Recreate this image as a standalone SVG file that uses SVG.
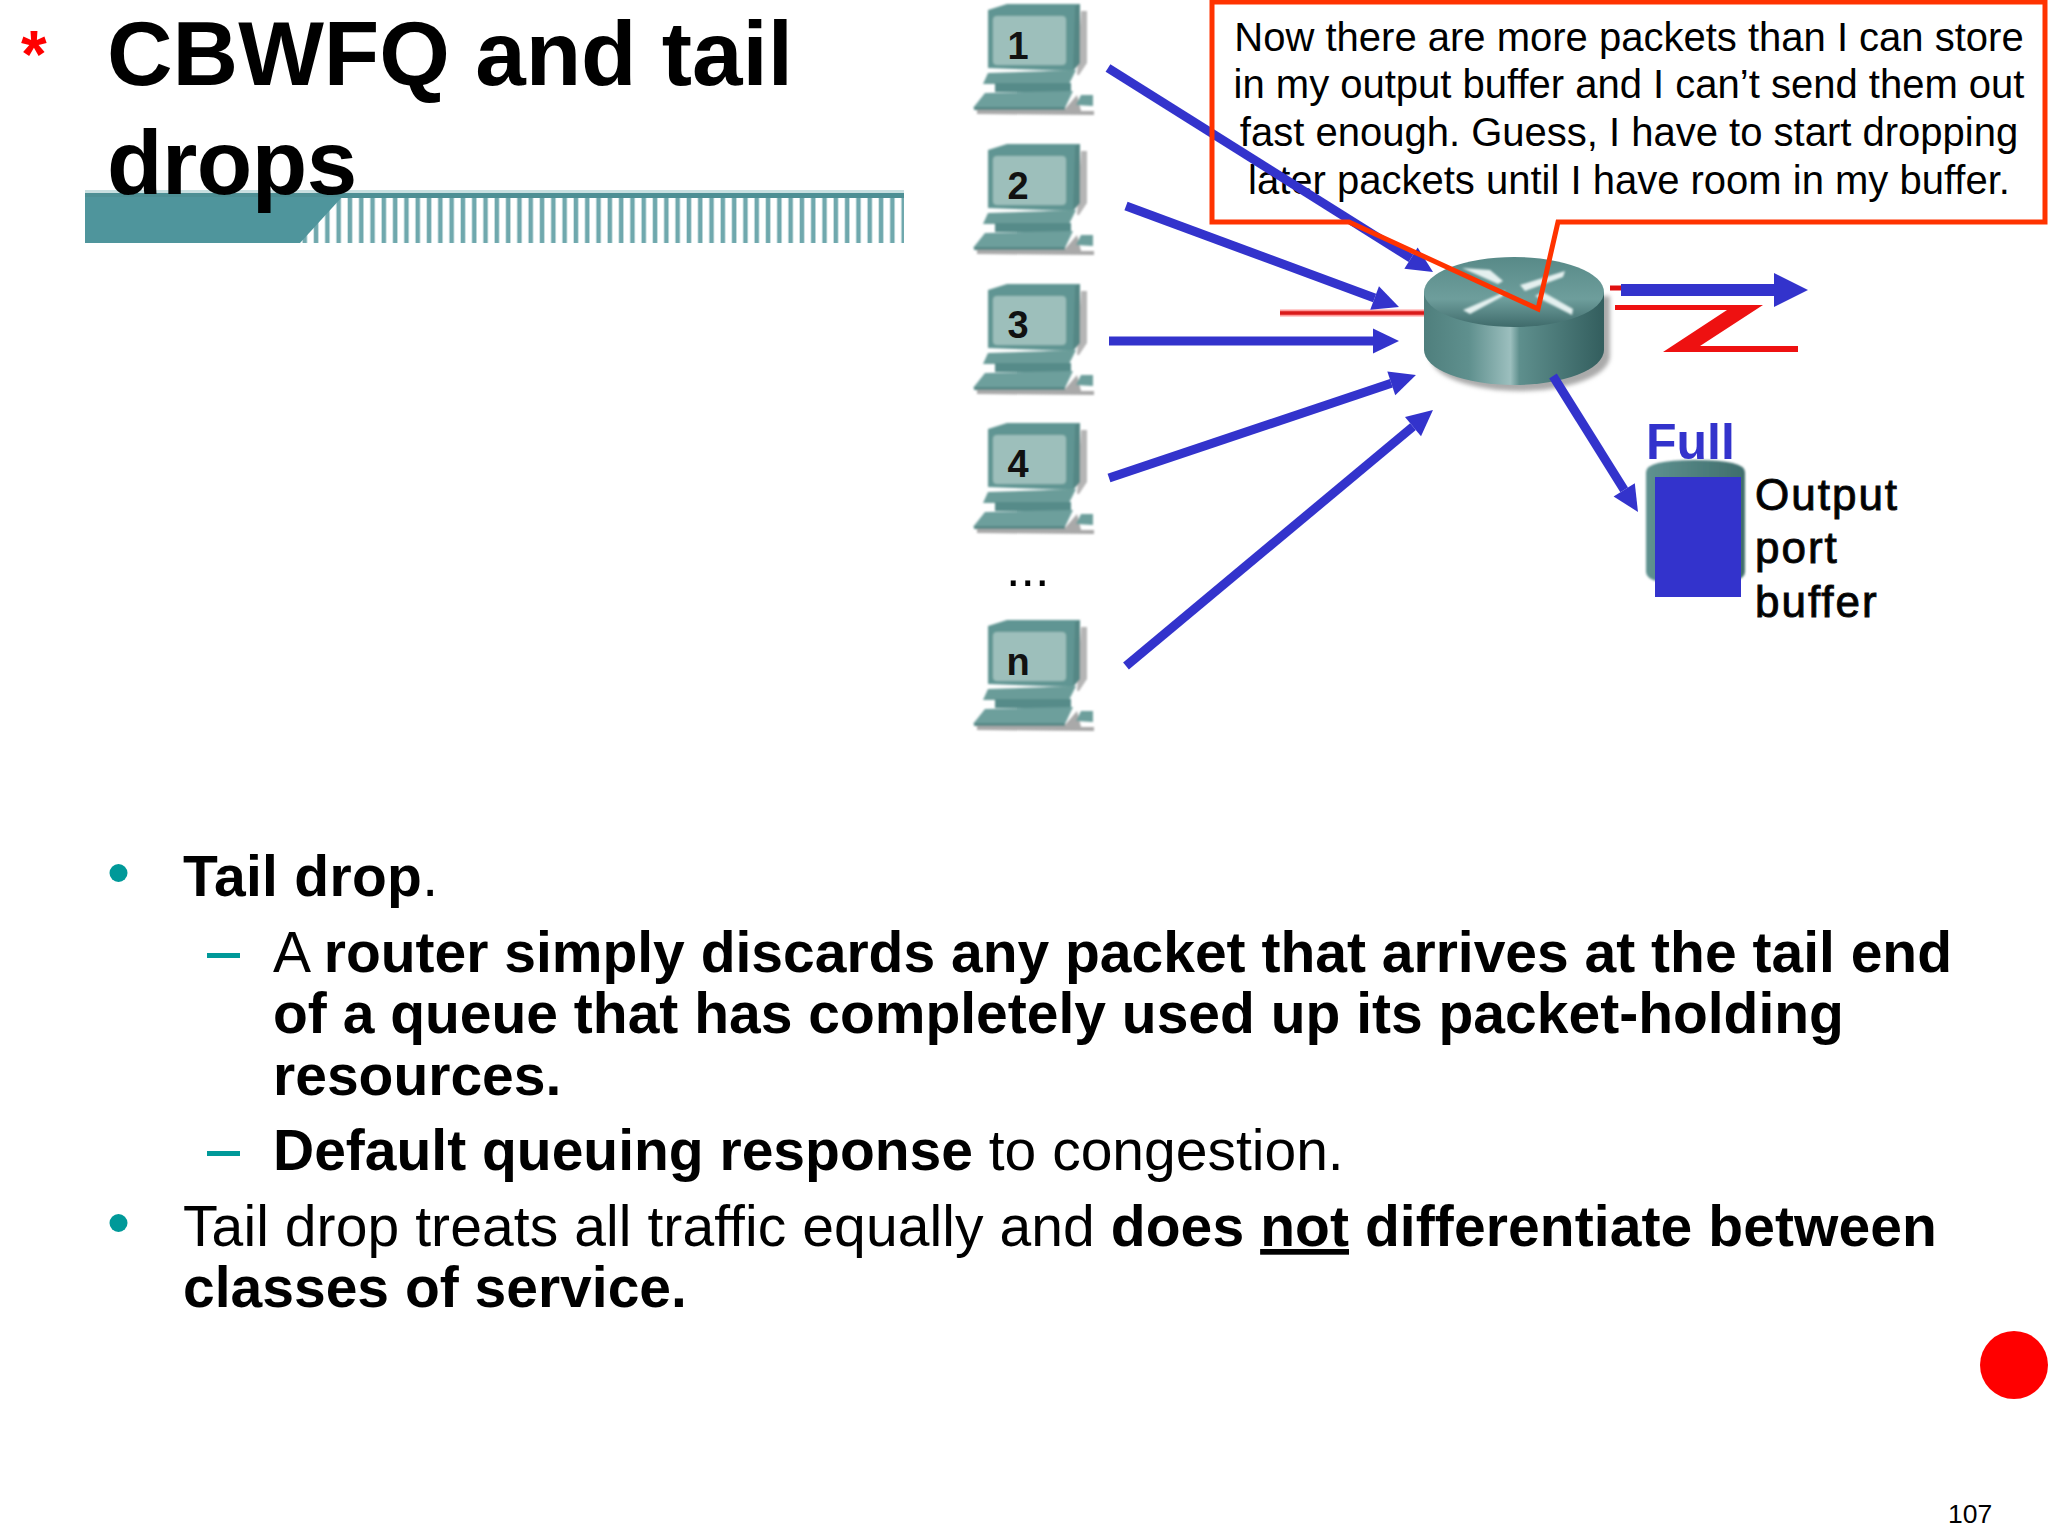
<svg xmlns="http://www.w3.org/2000/svg" width="2048" height="1536" viewBox="0 0 2048 1536">
<style>
text{font-family:"Liberation Sans",Arial,sans-serif;fill:#000}
.b{font-weight:700}
.title{font-size:90.8px;font-weight:700}
.body{font-size:57px}
.call{font-size:40px;text-anchor:middle}
.lab{font-size:38px;font-weight:700;text-anchor:middle;fill:#111}
.buf{font-size:44px;letter-spacing:2px;stroke:#111;stroke-width:1px}
.arr{stroke:#3333cc;stroke-width:9;fill:none;marker-end:url(#head)}
</style>
<defs>
<marker id="head" markerUnits="userSpaceOnUse" markerWidth="28" markerHeight="28" refX="0" refY="14" orient="auto" overflow="visible"><path d="M0,1.5 L26,14 L0,26.5 Z" fill="#3333cc"/></marker>
<marker id="headBig" markerUnits="userSpaceOnUse" markerWidth="36" markerHeight="36" refX="0" refY="18" orient="auto" overflow="visible"><path d="M0,1 L34,18 L0,35 Z" fill="#3333cc"/></marker>
<pattern id="stripes" patternUnits="userSpaceOnUse" x="300" y="0" width="11.3" height="10"><rect width="11.3" height="10" fill="#fff"/><rect x="2.5" width="4.5" height="10" fill="#6fa8ad"/></pattern>
<linearGradient id="routerSide" x1="0" x2="1" y1="0" y2="0">
<stop offset="0" stop-color="#4f7f7d"/><stop offset=".25" stop-color="#5f908e"/><stop offset=".48" stop-color="#9cbfbe"/><stop offset=".53" stop-color="#5e8f8d"/><stop offset="1" stop-color="#335e5e"/>
</linearGradient>
<linearGradient id="routerTop" x1="0" x2="0" y1="0" y2="1">
<stop offset="0" stop-color="#588a88"/><stop offset=".6" stop-color="#6e9e9c"/><stop offset="1" stop-color="#3f6b6b"/>
</linearGradient>
<linearGradient id="bufSide" x1="0" x2="1" y1="0" y2="0"><stop offset="0" stop-color="#5f9290"/><stop offset="1" stop-color="#3f6d6c"/></linearGradient>
<filter id="soft" x="-5%" y="-5%" width="110%" height="110%"><feGaussianBlur stdDeviation="1"/></filter>
<filter id="blur2" x="-10%" y="-10%" width="120%" height="120%"><feGaussianBlur stdDeviation="2"/></filter>
<g id="pc">
<g filter="url(#soft)">
<path d="M108,8 L114,8 L114,60 L106,72 L104,72 Z" fill="#b5b5b5"/>
<path d="M4,106 L92,106 L104,92 L108,108 L121,108 L121,112 L4,111 Z" fill="#a9a9a9"/>
<path d="M15,7 L34,1 L107,1 L107,60 L99,68 L15,65 Z" fill="#609593"/>
<path d="M102,3 L107,1 L107,60 L100,68 Z" fill="#558785"/>
<rect x="20" y="13" width="73" height="49" rx="4" fill="#9dbfbb"/>
<path d="M15,70 L103,67 L96,81 L10,81 Z" fill="#6a9c99"/>
<rect x="22" y="80" width="76" height="9" fill="#578b89"/>
<path d="M0,105 L12,90 L100,88 L92,105 Z" fill="#6d9f9c"/>
<rect x="1" y="104" width="91" height="3" fill="#578886"/>
<path d="M103,102 L108,92 L120,92 L120,103 Z" fill="#6d9f9c"/>
</g>
</g>
</defs>
<rect width="2048" height="1536" fill="#fff"/>

<g id="title-band">
<rect x="85" y="190" width="819" height="3" fill="#c8dfe0"/>
<rect x="85" y="193" width="819" height="5" fill="#4d8f94"/>
<rect x="300" y="198" width="604" height="45" fill="url(#stripes)"/>
<path d="M85,197 L342,197 L300,243 L85,243 Z" fill="#4f959c"/>
</g>
<g id="title">
<text x="21" y="77" class="b" font-size="66" style="fill:#ff0000">*</text>
<text x="107" y="85" class="title">CBWFQ and tail</text>
<text x="107" y="194" class="title" style="letter-spacing:-.5px">drops</text>
</g>

<g id="pc1"><use href="#pc" x="973" y="3"/><text x="1018" y="59" class="lab">1</text></g>
<g id="pc2"><use href="#pc" x="973" y="143"/><text x="1018" y="199" class="lab">2</text></g>
<g id="pc3"><use href="#pc" x="973" y="283"/><text x="1018" y="338" class="lab">3</text></g>
<g id="pc4"><use href="#pc" x="973" y="422"/><text x="1018" y="477" class="lab">4</text></g>
<text id="ellipsis" x="1006" y="586" font-size="52">...</text>
<g id="pcn"><use href="#pc" x="973" y="619"/><text x="1018" y="675" class="lab">n</text></g>

<g id="router">
<path d="M1280,313 H1426" stroke="#ff9a9a" stroke-width="7" fill="none"/>
<path d="M1280,313 H1426" stroke="#d91a1a" stroke-width="3.5" fill="none"/>
<path d="M1610,288 H1640" stroke="#e01010" stroke-width="5" fill="none"/>
<path d="M1430,296 V356 A90,35 0 0 0 1610,356 V296 Z" fill="#aaa" filter="url(#blur2)"/>
<path d="M1424,292 V350 A90,35 0 0 0 1604,350 V292 Z" fill="url(#routerSide)"/>
<ellipse cx="1514" cy="292" rx="90" ry="35" fill="url(#routerTop)"/>
<g fill="#e4f0ef" filter="url(#soft)">
<path d="M1463,310 L1500,294 L1505,290 L1503,296 L1470,314 Z"/>
<path d="M1520,285 L1565,271 L1563,277 L1525,291 Z"/>
<path d="M1462,268 L1490,270 L1503,281 L1498,284 Z"/>
<path d="M1535,296 L1543,292 L1573,309 L1572,315 Z"/>
</g>
</g>

<g id="wan">
<path d="M1615,305 H1763 L1700,346 H1798 V352 H1663 L1727,310 H1615 Z" fill="#ee1111"/>
</g>

<g id="buffer">
<path d="M1646,472 Q1646,460 1695,460 Q1745,460 1745,472 V572 Q1745,585 1695,585 Q1646,585 1646,572 Z" fill="url(#bufSide)" filter="url(#soft)"/>
<rect x="1655" y="477" width="86" height="120" fill="#3333cc"/>
<text x="1646" y="459" class="b" font-size="50" style="fill:#3333cc">Full</text>
<text x="1755" y="510" class="buf">Output</text>
<text x="1755" y="563" class="buf">port</text>
<text x="1755" y="617" class="buf">buffer</text>
</g>

<g id="callout-text">
<text x="1629" y="51" class="call">Now there are more packets than I can store</text>
<text x="1629" y="98" class="call">in my output buffer and I can’t send them out</text>
<text x="1629" y="146" class="call">fast enough. Guess, I have to start dropping</text>
<text x="1629" y="194" class="call">later packets until I have room in my buffer.</text>
</g>

<g id="connectors">
<path class="arr" d="M1108,68 L1411,258.2"/>
<path class="arr" d="M1126,206 L1374.6,298"/>
<path class="arr" d="M1109,341 L1373,341"/>
<path class="arr" d="M1109,478 L1391.3,383.3"/>
<path class="arr" d="M1126,666 L1413,426.6"/>
<path class="arr" d="M1553,376 L1624.2,489.9"/>
<path d="M1621,290 H1774" stroke="#3333cc" stroke-width="12" fill="none" marker-end="url(#headBig)"/>
</g>

<g id="callout">
<path d="M1212,2 H2045 V222 H1558 L1538,309 L1349,222 H1212 Z" fill="none" stroke="#ff3300" stroke-width="5"/>
</g>

<g id="bullets">
<ellipse cx="118.5" cy="873" rx="9" ry="9" fill="#009999"/>
<rect x="207" y="953" width="33" height="5" fill="#009999"/>
<rect x="207" y="1151" width="33" height="5" fill="#009999"/>
<ellipse cx="118.5" cy="1223" rx="9" ry="9" fill="#009999"/>
<text x="183" y="896" class="body" style="letter-spacing:.3px"><tspan class="b">Tail drop</tspan>.</text>
<text x="273" y="972" class="body">A <tspan class="b">router simply discards any packet that arrives at the tail end</tspan></text>
<text x="273" y="1033" class="body b">of a queue that has completely used up its packet-holding</text>
<text x="273" y="1095" class="body b">resources.</text>
<text x="273" y="1170" class="body"><tspan class="b">Default queuing response</tspan> to congestion.</text>
<text x="183" y="1246" class="body" style="letter-spacing:.09px">Tail drop treats all traffic equally and <tspan class="b">does <tspan text-decoration="underline">not</tspan> differentiate between</tspan></text>
<text x="183" y="1307" class="body b">classes of service.</text>
</g>

<circle id="dot" cx="2014" cy="1365" r="34" fill="#ff0000"/>
<text id="page" x="1948" y="1523" font-size="26.5">107</text>
</svg>
